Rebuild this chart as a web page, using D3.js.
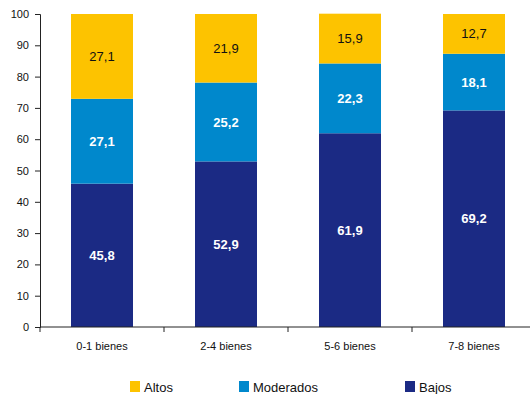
<!DOCTYPE html>
<html>
<head>
<meta charset="utf-8">
<script src="https://cdn.jsdelivr.net/npm/d3@7"></script>
<style>
  body { margin: 0; background: #fff; }
  svg { display: block; font-family: "Liberation Sans", Arial, sans-serif; }
</style>
</head>
<body>
<div id="chart"></div>
<script>
// Data
const categories = ['0-1 bienes', '2-4 bienes', '5-6 bienes', '7-8 bienes'];
const bajos = [45.8, 52.9, 61.9, 69.2];
const moderados = [27.1, 25.2, 22.3, 18.1];
const altos = [27.1, 21.9, 15.9, 12.7];
const yTicks = [0, 10, 20, 30, 40, 50, 60, 70, 80, 90, 100];

const seriesKeys = ['bajos', 'moderados', 'altos'];
const seriesNames = { bajos: 'Bajos', moderados: 'Moderados', altos: 'Altos' };
const colors = { bajos: '#1b2a84', moderados: '#0088cc', altos: '#fdc300' };
const labelColors = { bajos: '#fff', moderados: '#fff', altos: '#111' };
const labelWeights = { bajos: 'bold', moderados: 'bold', altos: 'normal' };

const rows = categories.map((c, i) => ({
  category: c, bajos: bajos[i], moderados: moderados[i], altos: altos[i]
}));

const width = 530, height = 394;
const svg = d3.select('#chart').append('svg')
  .attr('width', width)
  .attr('height', height);

const x = d3.scaleBand().domain(categories).range([40, 536]).paddingInner(0.5).paddingOuter(0.25);
const y = d3.scaleLinear().domain([0, 100]).range([327, 14]);

const stack = d3.stack().keys(seriesKeys);
const layers = stack(rows);

// Bars
const layerG = svg.selectAll('g.layer')
  .data(layers)
  .enter().append('g')
  .attr('class', 'layer')
  .attr('fill', d => colors[d.key]);

layerG.selectAll('rect')
  .data(d => d)
  .enter().append('rect')
  .attr('x', d => x(d.data.category))
  .attr('width', x.bandwidth())
  .attr('y', d => y(d[1]))
  .attr('height', d => y(d[0]) - y(d[1]));

// Value labels
layerG.each(function(layer) {
  d3.select(this).selectAll('text')
    .data(layer)
    .enter().append('text')
    .attr('x', d => x(d.data.category) + x.bandwidth() / 2)
    .attr('y', d => y((d[0] + d[1]) / 2))
    .attr('dy', '0.35em')
    .attr('text-anchor', 'middle')
    .attr('font-size', 13)
    .attr('font-weight', labelWeights[layer.key])
    .attr('fill', labelColors[layer.key])
    .text(d => d3.format('.1f')(d.data[layer.key]).replace('.', ','));
});

// Y axis
const yAxis = svg.append('g')
  .attr('transform', 'translate(40,0)')
  .call(d3.axisLeft(y).tickValues(yTicks).tickSize(5).tickPadding(6));
yAxis.selectAll('text').attr('font-size', 11).attr('fill', '#111').attr('font-family', null);
yAxis.selectAll('line, path').attr('stroke', '#222');

// X axis with ticks at band boundaries
const xAxisG = svg.append('g').attr('transform', 'translate(0,327)');
xAxisG.append('line')
  .attr('x1', 40).attr('x2', width)
  .attr('stroke', '#222');
xAxisG.selectAll('line.tick')
  .data(categories)
  .enter().append('line')
  .attr('class', 'tick')
  .attr('x1', d => x(d) - x.step() * 0.25)
  .attr('x2', d => x(d) - x.step() * 0.25)
  .attr('y1', 0).attr('y2', 5)
  .attr('stroke', '#222');
xAxisG.selectAll('text')
  .data(categories)
  .enter().append('text')
  .attr('x', d => x(d) + x.bandwidth() / 2)
  .attr('y', 23)
  .attr('text-anchor', 'middle')
  .attr('font-size', 11)
  .attr('fill', '#111')
  .text(d => d);

// Legend
const legendItems = [
  { key: 'altos', x: 130 },
  { key: 'moderados', x: 239 },
  { key: 'bajos', x: 405 }
];
const legend = svg.selectAll('g.legend')
  .data(legendItems)
  .enter().append('g')
  .attr('class', 'legend')
  .attr('transform', d => `translate(${d.x},381)`);
legend.append('rect')
  .attr('width', 10).attr('height', 11)
  .attr('fill', d => colors[d.key]);
legend.append('text')
  .attr('x', 14).attr('y', 10.5)
  .attr('font-size', 13)
  .attr('fill', '#111')
  .text(d => seriesNames[d.key]);
</script>
</body>
</html>
